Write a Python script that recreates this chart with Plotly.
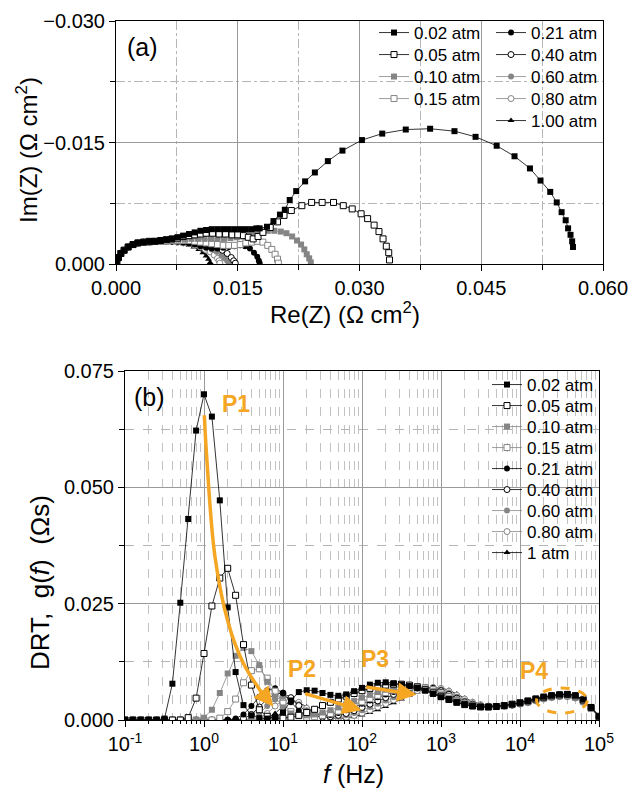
import plotly.graph_objects as go

FONT = "Liberation Sans, Arial, sans-serif"
BLACK = "#000000"
GREY = "#858585"
ORANGE = "#F5A623"

# ---------------- (a) Nyquist data: Re(Z) and -Im(Z) in ohm cm2 ----------------
LABELS_A = ["0.02 atm", "0.05 atm", "0.10 atm", "0.15 atm", "0.21 atm",
            "0.40 atm", "0.60 atm", "0.80 atm", "1.00 atm"]

RE_002 = [0.0001, 0.0003, 0.0006, 0.0010, 0.0015, 0.0021, 0.0027, 0.0034, 0.0041, 0.0048, 0.0055, 0.0062,
          0.0069, 0.0076, 0.0083, 0.0090, 0.0097, 0.0104, 0.0111, 0.0118, 0.0125, 0.0132, 0.0139, 0.0146,
          0.0153, 0.0160, 0.0167, 0.0173, 0.0177, 0.0186, 0.0194, 0.0202, 0.0208, 0.0214, 0.0222, 0.0233,
          0.0245, 0.0261, 0.0279, 0.0303, 0.0328, 0.0357, 0.0387, 0.0417, 0.0443, 0.0469, 0.0491, 0.0510,
          0.0523, 0.0535, 0.0543, 0.0549, 0.0554, 0.0557, 0.0560, 0.0562, 0.0563]
IM_002 = [0.0003, 0.0008, 0.0013, 0.0017, 0.0021, 0.0024, 0.0026, 0.0027, 0.0028, 0.0028, 0.0029, 0.0030,
          0.0031, 0.0033, 0.0035, 0.0037, 0.0039, 0.0041, 0.0042, 0.0043, 0.0043, 0.0043, 0.0043, 0.0043,
          0.0043, 0.0043, 0.0043, 0.0044, 0.0044, 0.0046, 0.0053, 0.0061, 0.0067, 0.0079, 0.0090, 0.0102,
          0.0113, 0.0127, 0.0140, 0.0153, 0.0161, 0.0166, 0.0167, 0.0164, 0.0157, 0.0146, 0.0133, 0.0118,
          0.0103, 0.0089, 0.0076, 0.0064, 0.0054, 0.0044, 0.0036, 0.0028, 0.0021]

RE_005 = [0.0001, 0.0003, 0.0006, 0.0010, 0.0015, 0.0021, 0.0027, 0.0034, 0.0041, 0.0048, 0.0055, 0.0062,
          0.0069, 0.0076, 0.0083, 0.0090, 0.0097, 0.0104, 0.0111, 0.0119, 0.0127, 0.0135, 0.0143, 0.0150,
          0.0157, 0.0163, 0.0169, 0.0175, 0.0181, 0.0190, 0.0199, 0.0207, 0.0216, 0.0229, 0.0241, 0.0254,
          0.0268, 0.0280, 0.0291, 0.0302, 0.0310, 0.0318, 0.0324, 0.0329, 0.0333, 0.0336, 0.0337]
IM_005 = [0.0003, 0.0008, 0.0013, 0.0017, 0.0021, 0.0024, 0.0026, 0.0027, 0.0028, 0.0028, 0.0029, 0.0030,
          0.0031, 0.0032, 0.0034, 0.0035, 0.0036, 0.0037, 0.0038, 0.0038, 0.0037, 0.0037, 0.0036, 0.0036,
          0.0035, 0.0033, 0.0031, 0.0034, 0.0039, 0.0045, 0.0052, 0.0060, 0.0066, 0.0072, 0.0076, 0.0076,
          0.0076, 0.0072, 0.0068, 0.0062, 0.0056, 0.0048, 0.0040, 0.0031, 0.0022, 0.0014, 0.0005]

RE_010 = [0.0001, 0.0003, 0.0006, 0.0010, 0.0015, 0.0021, 0.0027, 0.0034, 0.0041, 0.0048, 0.0055, 0.0062,
          0.0069, 0.0077, 0.0085, 0.0093, 0.0101, 0.0109, 0.0117, 0.0125, 0.0133, 0.0141, 0.0149, 0.0157,
          0.0165, 0.0172, 0.0179, 0.0187, 0.0195, 0.0203, 0.0210, 0.0217, 0.0223, 0.0228, 0.0232, 0.0235,
          0.0238, 0.0240]
IM_010 = [0.0003, 0.0008, 0.0013, 0.0017, 0.0021, 0.0024, 0.0026, 0.0027, 0.0027, 0.0028, 0.0028, 0.0029,
          0.0029, 0.0030, 0.0030, 0.0031, 0.0031, 0.0031, 0.0031, 0.0031, 0.0031, 0.0032, 0.0033, 0.0034,
          0.0036, 0.0038, 0.0040, 0.0041, 0.0041, 0.0040, 0.0038, 0.0034, 0.0029, 0.0024, 0.0018, 0.0012,
          0.0007, 0.0002]

RE_015 = [0.0001, 0.0003, 0.0006, 0.0010, 0.0015, 0.0021, 0.0027, 0.0034, 0.0041, 0.0048, 0.0055, 0.0062,
          0.0069, 0.0076, 0.0083, 0.0090, 0.0097, 0.0104, 0.0111, 0.0118, 0.0125, 0.0132, 0.0139, 0.0146,
          0.0153, 0.0160, 0.0167, 0.0174, 0.0181, 0.0187, 0.0192, 0.0196, 0.0199, 0.0200]
IM_015 = [0.0003, 0.0008, 0.0013, 0.0017, 0.0021, 0.0024, 0.0026, 0.0027, 0.0027, 0.0028, 0.0028, 0.0028,
          0.0029, 0.0029, 0.0029, 0.0029, 0.0028, 0.0027, 0.0026, 0.0025, 0.0024, 0.0023, 0.0023, 0.0023,
          0.0024, 0.0026, 0.0027, 0.0028, 0.0027, 0.0023, 0.0018, 0.0012, 0.0006, 0.0001]

RE_021 = [0.0001, 0.0003, 0.0006, 0.0010, 0.0015, 0.0021, 0.0027, 0.0034, 0.0041, 0.0048, 0.0055, 0.0062,
          0.0069, 0.0076, 0.0083, 0.0090, 0.0097, 0.0104, 0.0111, 0.0118, 0.0125, 0.0132, 0.0139, 0.0146,
          0.0153, 0.0159, 0.0165, 0.0170, 0.0174, 0.0176, 0.0177]
IM_021 = [0.0003, 0.0008, 0.0013, 0.0017, 0.0021, 0.0024, 0.0026, 0.0027, 0.0027, 0.0028, 0.0028, 0.0028,
          0.0028, 0.0028, 0.0027, 0.0026, 0.0024, 0.0022, 0.0020, 0.0019, 0.0019, 0.0020, 0.0021, 0.0022,
          0.0023, 0.0022, 0.0019, 0.0014, 0.0009, 0.0004, 0.0001]

RE_040 = [0.0001, 0.0003, 0.0006, 0.0010, 0.0015, 0.0021, 0.0027, 0.0034, 0.0041, 0.0048, 0.0055, 0.0062,
          0.0069, 0.0076, 0.0083, 0.0090, 0.0097, 0.0104, 0.0111, 0.0118, 0.0125, 0.0131, 0.0137, 0.0142,
          0.0145, 0.0147]
IM_040 = [0.0003, 0.0008, 0.0013, 0.0017, 0.0021, 0.0024, 0.0026, 0.0027, 0.0027, 0.0028, 0.0028, 0.0028,
          0.0028, 0.0028, 0.0027, 0.0026, 0.0025, 0.0024, 0.0023, 0.0022, 0.0020, 0.0017, 0.0013, 0.0008,
          0.0004, 0.0001]

RE_060 = [0.0001, 0.0003, 0.0006, 0.0010, 0.0015, 0.0021, 0.0027, 0.0034, 0.0041, 0.0048, 0.0055, 0.0062,
          0.0069, 0.0076, 0.0083, 0.0090, 0.0097, 0.0104, 0.0111, 0.0118, 0.0124, 0.0130, 0.0134, 0.0137,
          0.0139]
IM_060 = [0.0003, 0.0008, 0.0013, 0.0017, 0.0021, 0.0024, 0.0026, 0.0027, 0.0027, 0.0028, 0.0028, 0.0028,
          0.0028, 0.0027, 0.0027, 0.0026, 0.0025, 0.0023, 0.0021, 0.0018, 0.0015, 0.0011, 0.0007, 0.0004,
          0.0001]

RE_080 = [0.0001, 0.0003, 0.0006, 0.0010, 0.0015, 0.0021, 0.0027, 0.0034, 0.0041, 0.0048, 0.0055, 0.0062,
          0.0069, 0.0076, 0.0083, 0.0090, 0.0097, 0.0104, 0.0110, 0.0116, 0.0121, 0.0125, 0.0127, 0.0128]
IM_080 = [0.0003, 0.0008, 0.0013, 0.0017, 0.0021, 0.0024, 0.0026, 0.0027, 0.0027, 0.0028, 0.0028, 0.0028,
          0.0028, 0.0027, 0.0026, 0.0025, 0.0023, 0.0021, 0.0018, 0.0015, 0.0011, 0.0007, 0.0004, 0.0001]

RE_100 = [0.0001, 0.0003, 0.0006, 0.0010, 0.0015, 0.0021, 0.0027, 0.0034, 0.0041, 0.0048, 0.0055, 0.0062,
          0.0069, 0.0076, 0.0083, 0.0090, 0.0096, 0.0102, 0.0107, 0.0111, 0.0114, 0.0116]
IM_100 = [0.0003, 0.0008, 0.0013, 0.0017, 0.0021, 0.0024, 0.0026, 0.0027, 0.0027, 0.0028, 0.0028, 0.0028,
          0.0027, 0.0026, 0.0025, 0.0023, 0.0021, 0.0018, 0.0014, 0.0010, 0.0006, 0.0002]

RE_ALL = [RE_002, RE_005, RE_010, RE_015, RE_021, RE_040, RE_060, RE_080, RE_100]
IM_ALL = [IM_002, IM_005, IM_010, IM_015, IM_021, IM_040, IM_060, IM_080, IM_100]

# ---------------- (b) DRT data ----------------
LABELS_B = ["0.02 atm", "0.05 atm", "0.10 atm", "0.15 atm", "0.21 atm",
            "0.40 atm", "0.60 atm", "0.80 atm", "1 atm"]

LOG_F = [-1.0, -0.9, -0.8, -0.7, -0.6, -0.5, -0.4, -0.3, -0.2, -0.1,
         0.0, 0.1, 0.2, 0.3, 0.4, 0.5, 0.6, 0.7, 0.8, 0.9,
         1.0, 1.1, 1.2, 1.3, 1.4, 1.5, 1.6, 1.7, 1.8, 1.9,
         2.0, 2.1, 2.2, 2.3, 2.4, 2.5, 2.6, 2.7, 2.8, 2.9,
         3.0, 3.1, 3.2, 3.3, 3.4, 3.5, 3.6, 3.7, 3.8, 3.9,
         4.0, 4.1, 4.2, 4.3, 4.4, 4.5, 4.6, 4.7, 4.8, 4.9, 5.0]
FREQ = [10 ** v for v in LOG_F]

G_002 = [0, 0, 0, 0, 0, 0.0003, 0.0078, 0.0252, 0.0432, 0.0622,
         0.0700, 0.0652, 0.0472, 0.0242, 0.0103, 0.0032, 0.0010, 0.0004, 0.0003, 0.0006,
         0.0016, 0.0042, 0.0060, 0.0064, 0.0063, 0.0058, 0.0054, 0.0052, 0.0055, 0.0062,
         0.0069, 0.0076, 0.0080, 0.0081, 0.0079, 0.0076, 0.0073, 0.0069, 0.0063, 0.0056,
         0.0049, 0.0043, 0.0038, 0.0033, 0.0030, 0.0028, 0.0028, 0.0029, 0.0031, 0.0034,
         0.0037, 0.0041, 0.0046, 0.0050, 0.0053, 0.0055, 0.0056, 0.0053, 0.0044, 0.0028, 0.0008]
G_005 = [0, 0, 0, 0, 0, 0, 0, 0, 0.0005, 0.0047,
         0.0143, 0.0245, 0.0305, 0.0326, 0.0268, 0.0162, 0.0075, 0.0022, 0.0008, 0.0004,
         0.0004, 0.0006, 0.0010, 0.0016, 0.0023, 0.0031, 0.0038, 0.0045, 0.0051, 0.0057,
         0.0063, 0.0068, 0.0072, 0.0075, 0.0077, 0.0077, 0.0075, 0.0071, 0.0065, 0.0058,
         0.0051, 0.0044, 0.0038, 0.0033, 0.0030, 0.0028, 0.0028, 0.0029, 0.0031, 0.0034,
         0.0037, 0.0041, 0.0045, 0.0049, 0.0052, 0.0054, 0.0055, 0.0052, 0.0043, 0.0027, 0.0008]
G_010 = [0, 0, 0, 0, 0, 0, 0, 0, 0, 0,
         0.0005, 0.0022, 0.0058, 0.0100, 0.0138, 0.0155, 0.0148, 0.0118, 0.0082, 0.0050,
         0.0027, 0.0014, 0.0010, 0.0010, 0.0012, 0.0016, 0.0021, 0.0027, 0.0034, 0.0041,
         0.0048, 0.0054, 0.0060, 0.0065, 0.0069, 0.0072, 0.0073, 0.0072, 0.0068, 0.0062,
         0.0055, 0.0047, 0.0040, 0.0035, 0.0031, 0.0029, 0.0028, 0.0029, 0.0031, 0.0033,
         0.0036, 0.0040, 0.0044, 0.0048, 0.0051, 0.0053, 0.0053, 0.0050, 0.0041, 0.0026, 0.0007]
G_015 = [0, 0, 0, 0, 0, 0, 0, 0, 0, 0,
         0, 0, 0.0004, 0.0018, 0.0045, 0.0080, 0.0106, 0.0110, 0.0090, 0.0062,
         0.0036, 0.0018, 0.0009, 0.0006, 0.0007, 0.0010, 0.0014, 0.0019, 0.0025, 0.0032,
         0.0039, 0.0046, 0.0053, 0.0059, 0.0064, 0.0068, 0.0071, 0.0072, 0.0070, 0.0065,
         0.0058, 0.0050, 0.0042, 0.0036, 0.0032, 0.0029, 0.0028, 0.0029, 0.0030, 0.0033,
         0.0036, 0.0039, 0.0043, 0.0047, 0.0050, 0.0052, 0.0052, 0.0049, 0.0040, 0.0025, 0.0007]
G_021 = [0, 0, 0, 0, 0, 0, 0, 0, 0, 0,
         0, 0, 0, 0, 0.0003, 0.0012, 0.0030, 0.0050, 0.0064, 0.0068,
         0.0058, 0.0038, 0.0020, 0.0010, 0.0007, 0.0008, 0.0011, 0.0015, 0.0021, 0.0028,
         0.0035, 0.0042, 0.0049, 0.0055, 0.0060, 0.0065, 0.0068, 0.0070, 0.0069, 0.0066,
         0.0060, 0.0052, 0.0044, 0.0037, 0.0032, 0.0029, 0.0028, 0.0029, 0.0030, 0.0033,
         0.0036, 0.0040, 0.0045, 0.0049, 0.0053, 0.0055, 0.0056, 0.0053, 0.0044, 0.0028, 0.0008]
G_040 = [0, 0, 0, 0, 0, 0, 0, 0, 0, 0,
         0, 0, 0, 0, 0, 0.0003, 0.0012, 0.0028, 0.0045, 0.0056,
         0.0058, 0.0048, 0.0031, 0.0017, 0.0009, 0.0006, 0.0007, 0.0010, 0.0014, 0.0020,
         0.0027, 0.0034, 0.0041, 0.0048, 0.0055, 0.0061, 0.0066, 0.0069, 0.0070, 0.0068,
         0.0063, 0.0055, 0.0047, 0.0039, 0.0034, 0.0030, 0.0029, 0.0029, 0.0030, 0.0032,
         0.0035, 0.0039, 0.0043, 0.0047, 0.0050, 0.0052, 0.0052, 0.0049, 0.0040, 0.0025, 0.0007]
G_060 = [0, 0, 0, 0, 0, 0, 0, 0, 0, 0,
         0, 0, 0, 0, 0, 0, 0.0004, 0.0014, 0.0030, 0.0044,
         0.0050, 0.0046, 0.0034, 0.0021, 0.0011, 0.0006, 0.0005, 0.0007, 0.0010, 0.0015,
         0.0021, 0.0028, 0.0035, 0.0042, 0.0049, 0.0056, 0.0062, 0.0067, 0.0070, 0.0070,
         0.0066, 0.0059, 0.0050, 0.0042, 0.0036, 0.0031, 0.0029, 0.0029, 0.0030, 0.0032,
         0.0035, 0.0038, 0.0042, 0.0046, 0.0049, 0.0051, 0.0051, 0.0048, 0.0039, 0.0024, 0.0007]
G_080 = [0, 0, 0, 0, 0, 0, 0, 0, 0, 0,
         0, 0, 0, 0, 0, 0, 0, 0.0004, 0.0014, 0.0030,
         0.0042, 0.0045, 0.0038, 0.0025, 0.0014, 0.0007, 0.0004, 0.0004, 0.0006, 0.0010,
         0.0015, 0.0021, 0.0028, 0.0035, 0.0043, 0.0050, 0.0057, 0.0063, 0.0068, 0.0070,
         0.0068, 0.0062, 0.0053, 0.0045, 0.0038, 0.0033, 0.0030, 0.0029, 0.0030, 0.0032,
         0.0034, 0.0037, 0.0041, 0.0045, 0.0048, 0.0050, 0.0050, 0.0047, 0.0038, 0.0024, 0.0007]
G_100 = [0, 0, 0, 0, 0, 0, 0, 0, 0, 0,
         0, 0, 0, 0, 0, 0, 0, 0, 0.0004, 0.0014,
         0.0030, 0.0040, 0.0038, 0.0028, 0.0016, 0.0008, 0.0004, 0.0003, 0.0004, 0.0007,
         0.0011, 0.0016, 0.0022, 0.0029, 0.0037, 0.0045, 0.0053, 0.0060, 0.0066, 0.0069,
         0.0069, 0.0064, 0.0056, 0.0047, 0.0040, 0.0034, 0.0031, 0.0030, 0.0030, 0.0032,
         0.0035, 0.0039, 0.0044, 0.0048, 0.0052, 0.0054, 0.0055, 0.0052, 0.0043, 0.0027, 0.0008]
G_ALL = [G_002, G_005, G_010, G_015, G_021, G_040, G_060, G_080, G_100]

# orange guide arrow for P1 (log10 f, g)
P1_PATH_LOGF = [0.004, 0.034, 0.139, 0.308, 0.498, 0.709, 0.80]
P1_PATH_G = [0.0655, 0.0566, 0.0351, 0.0208, 0.0122, 0.0064, 0.0042]

# marker styles: (symbol, colour, filled)
STYLES = [("square", BLACK, True), ("square", BLACK, False), ("square", GREY, True),
          ("square", GREY, False), ("circle", BLACK, True), ("circle", BLACK, False),
          ("circle", GREY, True), ("circle", GREY, False), ("triangle-up", BLACK, True)]

W, H = 631, 788
# legend entry anchor positions (pixels of text start, row centre)
LEG_A = [(415, 33), (415, 55), (415, 77), (415, 99),
         (532, 33), (532, 55), (532, 77), (532, 99), (532, 121)]
LEG_B = [(528, 385), (528, 406), (528, 427), (528, 448), (528, 469),
         (528, 490), (528, 511), (528, 532), (528, 553)]

fig = go.Figure()


def marker(i, size):
    sym, col, filled = STYLES[i]
    if filled:
        return dict(symbol=sym, size=size, color=col, line=dict(width=0))
    return dict(symbol=sym, size=size, color="white", line=dict(color=col, width=1))


def leg_id(k):
    return "legend" if k == 1 else "legend%d" % k


legend_layout = {}
order = list(range(8, -1, -1))
for i in order:
    k = i + 1
    fig.add_trace(go.Scatter(
        x=RE_ALL[i], y=[-v for v in IM_ALL[i]], mode="lines+markers",
        name=LABELS_A[i], xaxis="x", yaxis="y",
        line=dict(color=STYLES[i][1], width=0.8), marker=marker(i, 6),
        legend=leg_id(k)))
    tx, ty = LEG_A[i]
    legend_layout[leg_id(k)] = dict(x=(tx - 41) / W, y=1 - ty / H, xanchor="left", yanchor="middle",
                                    bgcolor="rgba(0,0,0,0)", font=dict(family=FONT, size=17),
                                    itemwidth=30)

for i in order:
    k = i + 10
    fig.add_trace(go.Scatter(
        x=FREQ, y=G_ALL[i], mode="lines+markers",
        name=LABELS_B[i], xaxis="x2", yaxis="y2",
        line=dict(color=STYLES[i][1], width=0.8), marker=marker(i, 6),
        legend=leg_id(k)))
    tx, ty = LEG_B[i]
    legend_layout[leg_id(k)] = dict(x=(tx - 41) / W, y=1 - ty / H, xanchor="left", yanchor="middle",
                                    bgcolor="rgba(0,0,0,0)", font=dict(family=FONT, size=17),
                                    itemwidth=30)

# P1 arrow body
fig.add_trace(go.Scatter(
    x=[10 ** v for v in P1_PATH_LOGF], y=P1_PATH_G, mode="lines",
    line=dict(color=ORANGE, width=3.5, shape="spline"),
    xaxis="x2", yaxis="y2", showlegend=False, hoverinfo="skip"))

axis_common = dict(showline=True, linecolor="black", linewidth=1, mirror=True,
                   ticks="outside", ticklen=6, tickcolor="black", tickwidth=1,
                   showgrid=True, gridcolor="#9a9a9a", gridwidth=1, zeroline=False,
                   automargin=False,
                   tickfont=dict(family=FONT, size=20, color="black"))

fig.update_layout(
    width=W, height=H,
    margin=dict(l=0, r=0, t=0, b=0, autoexpand=False),
    paper_bgcolor="white", plot_bgcolor="white",
    font=dict(family=FONT, color="black"),
    xaxis=dict(domain=[116 / W, 603 / W], anchor="y", range=[0, 0.060], tick0=0, dtick=0.015,
               tickformat=".3f",
               minor=dict(dtick=0.0075, tick0=0, ticks="outside", ticklen=5, tickcolor="black",
                          showgrid=True, gridcolor="#b5b5b5", griddash="dashdot"),
               **axis_common),
    yaxis=dict(domain=[1 - 264 / H, 1 - 21 / H], anchor="x", range=[0, -0.030], tick0=0, dtick=0.015,
               tickformat=".3f",
               minor=dict(dtick=0.0075, tick0=0, ticks="outside", ticklen=5, tickcolor="black",
                          showgrid=True, gridcolor="#b5b5b5", griddash="dashdot"),
               **axis_common),
    xaxis2=dict(domain=[125 / W, 599 / W], anchor="y2", type="log", range=[-1, 5],
                tickmode="array", tickvals=[0.1, 1, 10, 100, 1000, 10000, 100000],
                ticktext=["10<sup>-1</sup>", "10<sup>0</sup>", "10<sup>1</sup>", "10<sup>2</sup>",
                          "10<sup>3</sup>", "10<sup>4</sup>", "10<sup>5</sup>"],
                minor=dict(dtick="D1", ticks="outside", ticklen=3, tickcolor="black",
                           showgrid=True, gridcolor="#c2c2c2", griddash="dash"),
                **axis_common),
    yaxis2=dict(domain=[1 - 720 / H, 1 - 371 / H], anchor="x2", range=[0, 0.075], tick0=0, dtick=0.025,
                tickformat=".3f",
                minor=dict(dtick=0.0125, tick0=0, ticks="outside", ticklen=5, tickcolor="black",
                           showgrid=True, gridcolor="#b5b5b5", griddash="dash"),
                **axis_common),
    showlegend=True,
    **legend_layout,
)

ann = []
common_ann = dict(xref="paper", yref="paper", showarrow=False, xanchor="center", yanchor="middle")
# axis titles
ann.append(dict(text="Re(Z) (Ω cm<sup>2</sup>)", x=345 / W, y=1 - 313 / H, font=dict(size=24), **common_ann))
ann.append(dict(text="Im(Z) (Ω cm<sup>2</sup>)", x=27 / W, y=1 - 150 / H, textangle=-90,
                font=dict(size=24), **common_ann))
ann.append(dict(text="<i>f</i> (Hz)", x=353 / W, y=1 - 774 / H, font=dict(size=25), **common_ann))
ann.append(dict(text="DRT,&nbsp; g(<i>f</i>)&nbsp; (Ωs)", x=40 / W, y=1 - 583 / H, textangle=-90,
                font=dict(size=26), **common_ann))
# panel labels
ann.append(dict(text="(a)", x=142 / W, y=1 - 47 / H, font=dict(size=25), **common_ann))
ann.append(dict(text="(b)", x=149 / W, y=1 - 397 / H, font=dict(size=25), **common_ann))
# peak labels (log10 x on log axis)
for txt, lx, gy in [("P1", 0.405, 0.0679), ("P2", 1.24, 0.0110), ("P3", 2.16, 0.0131), ("P4", 4.18, 0.0105)]:
    ann.append(dict(text="<b>" + txt + "</b>", x=lx, y=gy, xref="x2", yref="y2", showarrow=False,
                    xanchor="center", yanchor="middle", font=dict(size=23, color=ORANGE)))
# arrows
for hx, hy, ax, ay in [(0.877, 0.0029, -14, -17), (1.996, 0.0021, -58, -17), (2.69, 0.0054, -52, -8)]:
    ann.append(dict(text="", x=hx, y=hy, xref="x2", yref="y2", ax=ax, ay=ay, axref="pixel", ayref="pixel",
                    showarrow=True, arrowhead=2, arrowsize=1.1, arrowwidth=3.5, arrowcolor=ORANGE,
                    standoff=0))
fig.update_layout(annotations=ann)

# P4 dashed ellipse
fig.add_shape(type="circle", xref="x2", yref="y2", x0=16200, x1=70800, y0=0.0015, y1=0.0069,
              line=dict(color=ORANGE, width=3, dash="dash"))

fig.write_html("out.html", config={"displayModeBar": False},
               post_script="document.body.style.margin='0px';")
